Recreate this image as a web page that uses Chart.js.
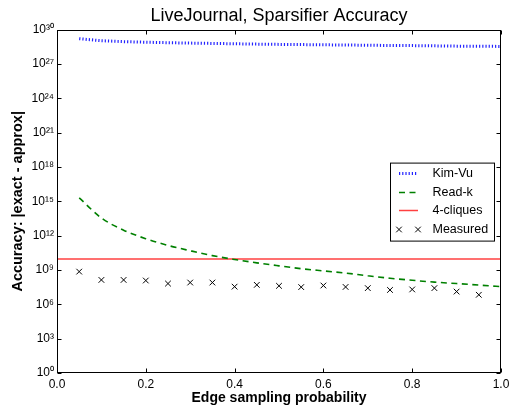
<!DOCTYPE html>
<html>
<head>
<meta charset="utf-8">
<script src="https://cdn.jsdelivr.net/npm/chart.js@4"></script>
<style>
  html, body { margin: 0; padding: 0; background: #fff; }
  canvas { display: block; }
</style>
</head>
<body>
<canvas id="chart" width="509" height="413"></canvas>
<script>
// sampling probabilities (x axis)
const probs = [0.05, 0.10, 0.15, 0.20, 0.25, 0.30, 0.35, 0.40, 0.45, 0.50,
               0.55, 0.60, 0.65, 0.70, 0.75, 0.80, 0.85, 0.90, 0.95, 1.00];

// bounds
const kimVu = [1.6e29, 1.07e29, 8.9e28, 7.9e28, 7.2e28, 6.6e28, 6.2e28, 5.8e28, 5.4e28, 5.1e28,
               4.9e28, 4.7e28, 4.5e28, 4.3e28, 4.1e28, 4.0e28, 3.8e28, 3.6e28, 3.5e28, 3.4e28];
const readK = [2.0e15, 3.5e13, 3.0e12, 5.4e11, 1.4e11, 4.8e10, 1.8e10, 8.3e9, 4.2e9, 2.3e9,
               1.3e9, 8.3e8, 5.4e8, 3.1e8, 1.9e8, 1.26e8, 8.7e7, 6.5e7, 4.8e7, 3.5e7];
const cliques4 = 9.3e9;
const cliquesRange = [0, 1];

// measured error, x = 0.05 .. 0.95
const measured = [7.2e8, 1.35e8, 1.35e8, 1.2e8, 6.5e7, 8e7, 8e7, 3.5e7, 5e7, 4.1e7,
                  3.2e7, 4.4e7, 3.3e7, 2.6e7, 1.8e7, 2e7, 2.6e7, 1.3e7, 6.8e6];

const yTickExps = [0, 3, 6, 9, 12, 15, 18, 21, 24, 27, 30];
const xTicks = [0, 0.2, 0.4, 0.6, 0.8, 1.0];

const seriesNames = ["Kim-Vu", "Read-k", "4-cliques", "Measured"];

const FONT = "'Liberation Sans', Arial, Helvetica, sans-serif";
const SUP = "⁰¹²³⁴⁵⁶⁷⁸⁹";
function sup(n) {
  return String(n).split("").map(d => SUP[+d]).join("");
}

// matplotlib-like frame with ticks pointing inward, plus the legend box
const framePlugin = {
  id: "frame",
  afterDatasetsDraw(chart) {
    const ctx = chart.ctx;
    const a = chart.chartArea;
    const xs = chart.scales.x, ys = chart.scales.y;
    ctx.save();
    ctx.strokeStyle = "#000";
    ctx.lineWidth = 1;
    const L = Math.round(a.left) + 0.5, R = Math.round(a.right) - 0.5;
    const T = Math.round(a.top) + 0.5, B = Math.round(a.bottom) - 0.5;
    ctx.beginPath();
    xTicks.forEach(v => {
      const px = Math.round(xs.getPixelForValue(v)) + 0.5;
      ctx.moveTo(px, B); ctx.lineTo(px, B - 4);
      ctx.moveTo(px, T); ctx.lineTo(px, T + 4);
    });
    yTickExps.forEach(e => {
      const py = Math.round(ys.getPixelForValue(Math.pow(10, e))) + 0.5;
      ctx.moveTo(L, py); ctx.lineTo(L + 4, py);
      ctx.moveTo(R, py); ctx.lineTo(R - 4, py);
    });
    ctx.stroke();
    ctx.strokeRect(L, T, R - L, B - T);

    // legend
    const bx = a.right - 110.5, by = a.top + 133.5, bw = 104, bh = 78;
    ctx.fillStyle = "#fff";
    ctx.fillRect(bx, by, bw, bh);
    ctx.strokeRect(bx, by, bw, bh);
    const sx0 = bx + 8.5, sx1 = bx + 27.5, tx = bx + 42;
    const rows = [by + 10, by + 28.5, by + 47, by + 65.5];
    ctx.font = "12.5px " + FONT;
    ctx.textBaseline = "middle";
    ctx.textAlign = "left";
    chart.data.datasets.forEach((ds, i) => {
      const y = Math.round(rows[i]) + 0.5;
      ctx.save();
      ctx.strokeStyle = ds.borderColor;
      if (ds.showLine === false) {
        ctx.lineWidth = 1;
        [sx0, sx1].forEach(cx => {
          ctx.beginPath();
          ctx.moveTo(cx - 2.8, y - 2.8); ctx.lineTo(cx + 2.8, y + 2.8);
          ctx.moveTo(cx - 2.8, y + 2.8); ctx.lineTo(cx + 2.8, y - 2.8);
          ctx.stroke();
        });
      } else {
        ctx.lineWidth = ds.borderWidth;
        ctx.setLineDash(ds.borderDash || []);
        ctx.beginPath();
        ctx.moveTo(sx0, y); ctx.lineTo(sx1, y);
        ctx.stroke();
      }
      ctx.restore();
      ctx.fillStyle = "#000";
      ctx.fillText(ds.label, tx, y);
    });
    ctx.restore();
  }
};

new Chart(document.getElementById("chart"), {
  type: "line",
  data: {
    datasets: [
      {
        label: seriesNames[0],
        data: probs.map((x, i) => ({ x: x, y: kimVu[i] })),
        borderColor: "#2222ff",
        borderWidth: 3,
        borderDash: [1.2, 2],
        pointRadius: 0,
        tension: 0
      },
      {
        label: seriesNames[1],
        data: probs.map((x, i) => ({ x: x, y: readK[i] })),
        borderColor: "#008000",
        borderWidth: 1.6,
        borderDash: [6, 4.5],
        pointRadius: 0,
        cubicInterpolationMode: "monotone"
      },
      {
        label: seriesNames[2],
        data: cliquesRange.map(x => ({ x: x, y: cliques4 })),
        borderColor: "rgba(255,0,0,0.75)",
        borderWidth: 1.5,
        pointRadius: 0
      },
      {
        label: seriesNames[3],
        data: measured.map((v, i) => ({ x: probs[i], y: v })),
        showLine: false,
        borderColor: "#000",
        backgroundColor: "#000",
        pointStyle: "crossRot",
        pointRadius: 4,
        pointBorderWidth: 1
      }
    ]
  },
  options: {
    responsive: false,
    animation: false,
    devicePixelRatio: 1,
    layout: { padding: { left: 0, right: 8, top: 0, bottom: 0 } },
    plugins: {
      legend: { display: false },
      tooltip: { enabled: false },
      title: {
        display: true,
        fullSize: false,
        text: "LiveJournal, Sparsifier Accuracy",
        color: "#000",
        font: { family: FONT, size: 18, weight: "normal" },
        padding: { top: 5, bottom: 3 }
      }
    },
    scales: {
      x: {
        type: "linear",
        min: 0,
        max: 1,
        grid: { display: false, drawTicks: false },
        border: { display: false },
        afterBuildTicks: s => { s.ticks = xTicks.map(v => ({ value: v })); },
        afterFit: s => { s.height = 40; s.paddingLeft = 0; s.paddingRight = 0; },
        ticks: {
          color: "#000",
          padding: 4,
          autoSkip: false,
          maxRotation: 0,
          font: { family: FONT, size: 12 },
          callback: v => v.toFixed(1)
        },
        title: {
          display: true,
          text: "Edge sampling probability",
          color: "#000",
          font: { family: FONT, size: 14, weight: "bold" },
          padding: { top: 0, bottom: 6.5 }
        }
      },
      y: {
        type: "logarithmic",
        min: 1,
        max: 1e30,
        grid: { display: false, drawTicks: false },
        border: { display: false },
        afterBuildTicks: s => { s.ticks = yTickExps.map(e => ({ value: Math.pow(10, e) })); },
        afterFit: s => { s.width = 57; },
        ticks: {
          color: "#000",
          padding: 3,
          autoSkip: false,
          font: { family: FONT, size: 12 },
          callback: v => "10" + sup(Math.round(Math.log10(v)))
        },
        title: {
          display: true,
          text: "Accuracy: |exact - approx|",
          color: "#000",
          font: { family: FONT, size: 14.5, weight: "bold" },
          padding: { top: 9, bottom: 0 }
        }
      }
    }
  },
  plugins: [framePlugin]
});
</script>
</body>
</html>
